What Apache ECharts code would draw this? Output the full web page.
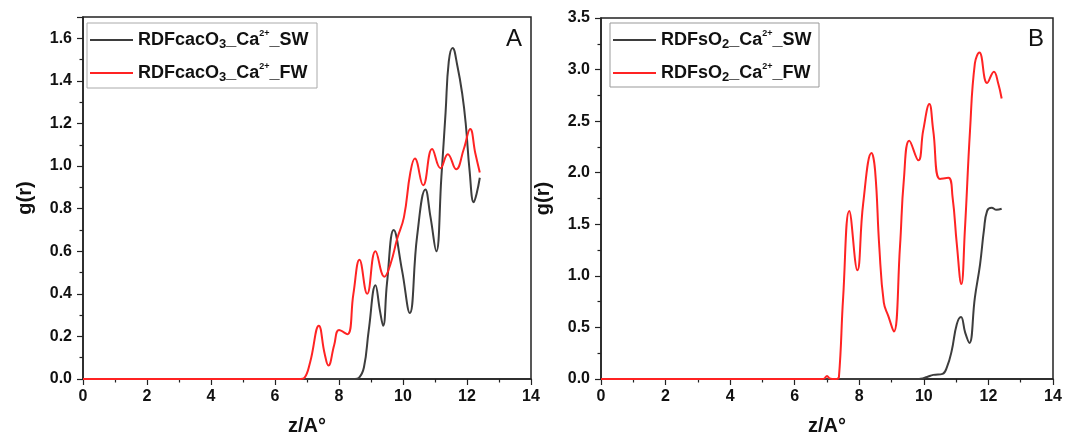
<!DOCTYPE html>
<html>
<head>
<meta charset="utf-8">
<script src="https://cdn.jsdelivr.net/npm/echarts@6/dist/echarts.min.js"></script>
<style>
  html, body { margin: 0; padding: 0; background: #fff; }
  #chart { width: 1066px; height: 436px; }
</style>
</head>
<body>
<div id="chart"></div>
<script>
// panel A : RDF CaCO3 - Ca2+
var zA_sw = [0, 8.5, 8.62, 8.78, 8.93, 9.14, 9.28, 9.38, 9.5, 9.71, 9.97, 10.21, 10.44, 10.7, 10.86, 11.04, 11.2, 11.33, 11.43, 11.55, 11.7, 11.85, 11.96, 12.08, 12.21, 12.3, 12.4];
var gA_sw = [0, 0, 0.005, 0.055, 0.23, 0.44, 0.32, 0.25, 0.45, 0.70, 0.51, 0.31, 0.67, 0.89, 0.76, 0.60, 0.95, 1.25, 1.49, 1.555, 1.47, 1.34, 1.2, 0.98, 0.83, 0.87, 0.945];
var zA_fw = [0, 6.8, 6.92, 7.1, 7.37, 7.55, 7.67, 7.85, 8.0, 8.26, 8.45, 8.64, 8.88, 9.14, 9.42, 9.61, 9.82, 10.03, 10.23, 10.37, 10.63, 10.91, 11.17, 11.4, 11.66, 11.9, 12.1, 12.26, 12.4];
var gA_fw = [0, 0, 0.005, 0.08, 0.25, 0.12, 0.063, 0.16, 0.23, 0.21, 0.40, 0.56, 0.40, 0.60, 0.48, 0.54, 0.66, 0.76, 0.97, 1.035, 0.91, 1.08, 0.99, 1.056, 0.985, 1.08, 1.174, 1.06, 0.97];

// panel B : RDF SO2 - Ca2+
var zB_sw = [0, 9.8, 9.9, 10.1, 10.29, 10.58, 10.72, 10.86, 11.02, 11.15, 11.28, 11.41, 11.58, 11.74, 11.86, 11.96, 12.1, 12.25, 12.41];
var gB_sw = [0, 0, 0.002, 0.02, 0.04, 0.05, 0.12, 0.27, 0.53, 0.60, 0.45, 0.35, 0.79, 1.11, 1.44, 1.63, 1.66, 1.64, 1.65];
var zB_fw = [0, 6.85, 6.92, 7.0, 7.08, 7.16, 7.3, 7.37, 7.5, 7.69, 7.94, 8.12, 8.38, 8.49, 8.62, 8.76, 8.9, 9.07, 9.26, 9.38, 9.55, 9.83, 9.98, 10.17, 10.29, 10.5, 10.76, 10.89, 11.02, 11.16, 11.27, 11.43, 11.58, 11.72, 11.96, 12.17, 12.3, 12.41];
var gB_fw = [0, 0, 0.005, 0.03, 0.005, 0, 0, 0.02, 0.79, 1.63, 1.055, 1.70, 2.19, 2.02, 1.28, 0.74, 0.61, 0.46, 1.28, 1.93, 2.31, 2.12, 2.41, 2.665, 2.41, 1.94, 1.95, 1.76, 1.31, 0.92, 1.44, 2.41, 3.06, 3.165, 2.87, 2.98, 2.87, 2.72];

var names = ['RDFcacO3_Ca2+_SW', 'RDFcacO3_Ca2+_FW', 'RDFsO2_Ca2+_SW', 'RDFsO2_Ca2+_FW'];
var colorSW = '#3d3d3d', colorFW = '#ff2323';

function pairs(z, g){
	var out = [];
	for(var i=0;i<z.length;i++){
		out.push([z[i], g[i]]);
	}
	return out;
}

function legendLabel(name){
	// RDFcacO3_Ca2+_SW -> rich text with sub / sup
	var m = name.match(/^RDF(\w+?)O(\d)_Ca2\+_(\w+)$/);
	return '{t|RDF' + m[1] + 'O}{s|' + m[2] + '}{t|_Ca}{p|2+}{t|_' + m[3] + '}';
}

var richStyle = {
	t: { fontSize: 18, fontWeight: 'bold', color: '#111', lineHeight: 22, fontFamily: 'Liberation Sans' },
	s: { fontSize: 13, fontWeight: 'bold', color: '#111', lineHeight: 12, verticalAlign: 'bottom', fontFamily: 'Liberation Sans' },
	p: { fontSize: 9, fontWeight: 'bold', color: '#111', lineHeight: 16, verticalAlign: 'top', fontFamily: 'Liberation Sans' }
};

var tickFont = { color: '#111', fontSize: 16, fontWeight: 'bold', fontFamily: 'Liberation Sans' };
var nameFont = { color: '#111', fontSize: 20, fontWeight: 'bold', fontFamily: 'Liberation Sans' };
var axisLine = { show: true, lineStyle: { color: '#222', width: 1.5 } };

function xAxisFor(idx){
	return {
		type: 'value', gridIndex: idx, min: 0, max: 14, interval: 2,
		name: 'z/A°', nameLocation: 'middle', nameGap: 37, nameTextStyle: nameFont,
		axisLine: axisLine,
		axisTick: { show: true, inside: false, length: 6, lineStyle: { color: '#222', width: 1.2 } },
		minorTick: { show: true, splitNumber: 2, length: 3.5, lineStyle: { color: '#222', width: 1.2 } },
		splitLine: { show: false },
		axisLabel: Object.assign({ margin: 10 }, tickFont)
	};
}

function yAxisFor(idx, max, interval){
	return {
		type: 'value', gridIndex: idx, min: 0, max: max, interval: interval,
		name: 'g(r)', nameLocation: 'middle', nameGap: 48, nameTextStyle: nameFont,
		axisLine: axisLine,
		axisTick: { show: true, inside: false, length: 6, lineStyle: { color: '#222', width: 1.2 } },
		minorTick: { show: true, splitNumber: 2, length: 3.5, lineStyle: { color: '#222', width: 1.2 } },
		splitLine: { show: false },
		axisLabel: Object.assign({
			margin: 11,
			showMaxLabel: max === 3.5,
			formatter: function(v){ return v.toFixed(1); }
		}, tickFont)
	};
}

function lineSeries(name, idx, data, color){
	return {
		name: name, type: 'line', xAxisIndex: idx, yAxisIndex: idx,
		data: data, smooth: 0.45, showSymbol: false, symbol: 'none',
		lineStyle: { color: color, width: 2 }, itemStyle: { color: color },
		animation: false
	};
}

var chart = echarts.init(document.getElementById('chart'), null, { renderer: 'canvas' });
var option = {
	animation: false,
	backgroundColor: '#fff',
	grid: [
		{ left: 83, top: 17, width: 448, height: 362, show: true, borderColor: '#222', borderWidth: 1.5, outerBoundsMode: 'none' },
		{ left: 601, top: 18, width: 452, height: 361, show: true, borderColor: '#222', borderWidth: 1.5, outerBoundsMode: 'none' }
	],
	xAxis: [xAxisFor(0), xAxisFor(1)],
	yAxis: [yAxisFor(0, 1.7, 0.2), yAxisFor(1, 3.5, 0.5)],
	legend: [
		{
			data: [names[0], names[1]], orient: 'vertical', left: 90, top: 29, itemGap: 11,
			itemWidth: 43, itemHeight: 14, icon: 'path://M0,6 L43,6 L43,8 L0,8 Z',
			padding: 0, formatter: legendLabel, textStyle: { rich: richStyle }
		},
		{
			data: [names[2], names[3]], orient: 'vertical', left: 613, top: 29, itemGap: 11,
			itemWidth: 43, itemHeight: 14, icon: 'path://M0,6 L43,6 L43,8 L0,8 Z',
			padding: 0, formatter: legendLabel, textStyle: { rich: richStyle }
		}
	],
	graphic: [
		{ type: 'rect', shape: { x: 87, y: 23, width: 230, height: 65 }, style: { fill: 'none', stroke: '#aaa', lineWidth: 1 }, z: -1 },
		{ type: 'rect', shape: { x: 610, y: 23, width: 209, height: 64 }, style: { fill: 'none', stroke: '#999', lineWidth: 1 }, z: -1 },
		{ type: 'text', left: 506, top: 27, style: { text: 'A', fontSize: 24, fill: '#111', fontFamily: 'Liberation Sans' } },
		{ type: 'text', left: 1028, top: 27, style: { text: 'B', fontSize: 24, fill: '#111', fontFamily: 'Liberation Sans' } }
	],
	series: [
		lineSeries(names[0], 0, pairs(zA_sw, gA_sw), colorSW),
		lineSeries(names[1], 0, pairs(zA_fw, gA_fw), colorFW),
		lineSeries(names[2], 1, pairs(zB_sw, gB_sw), colorSW),
		lineSeries(names[3], 1, pairs(zB_fw, gB_fw), colorFW)
	]
};
chart.setOption(option);
</script>
</body>
</html>
